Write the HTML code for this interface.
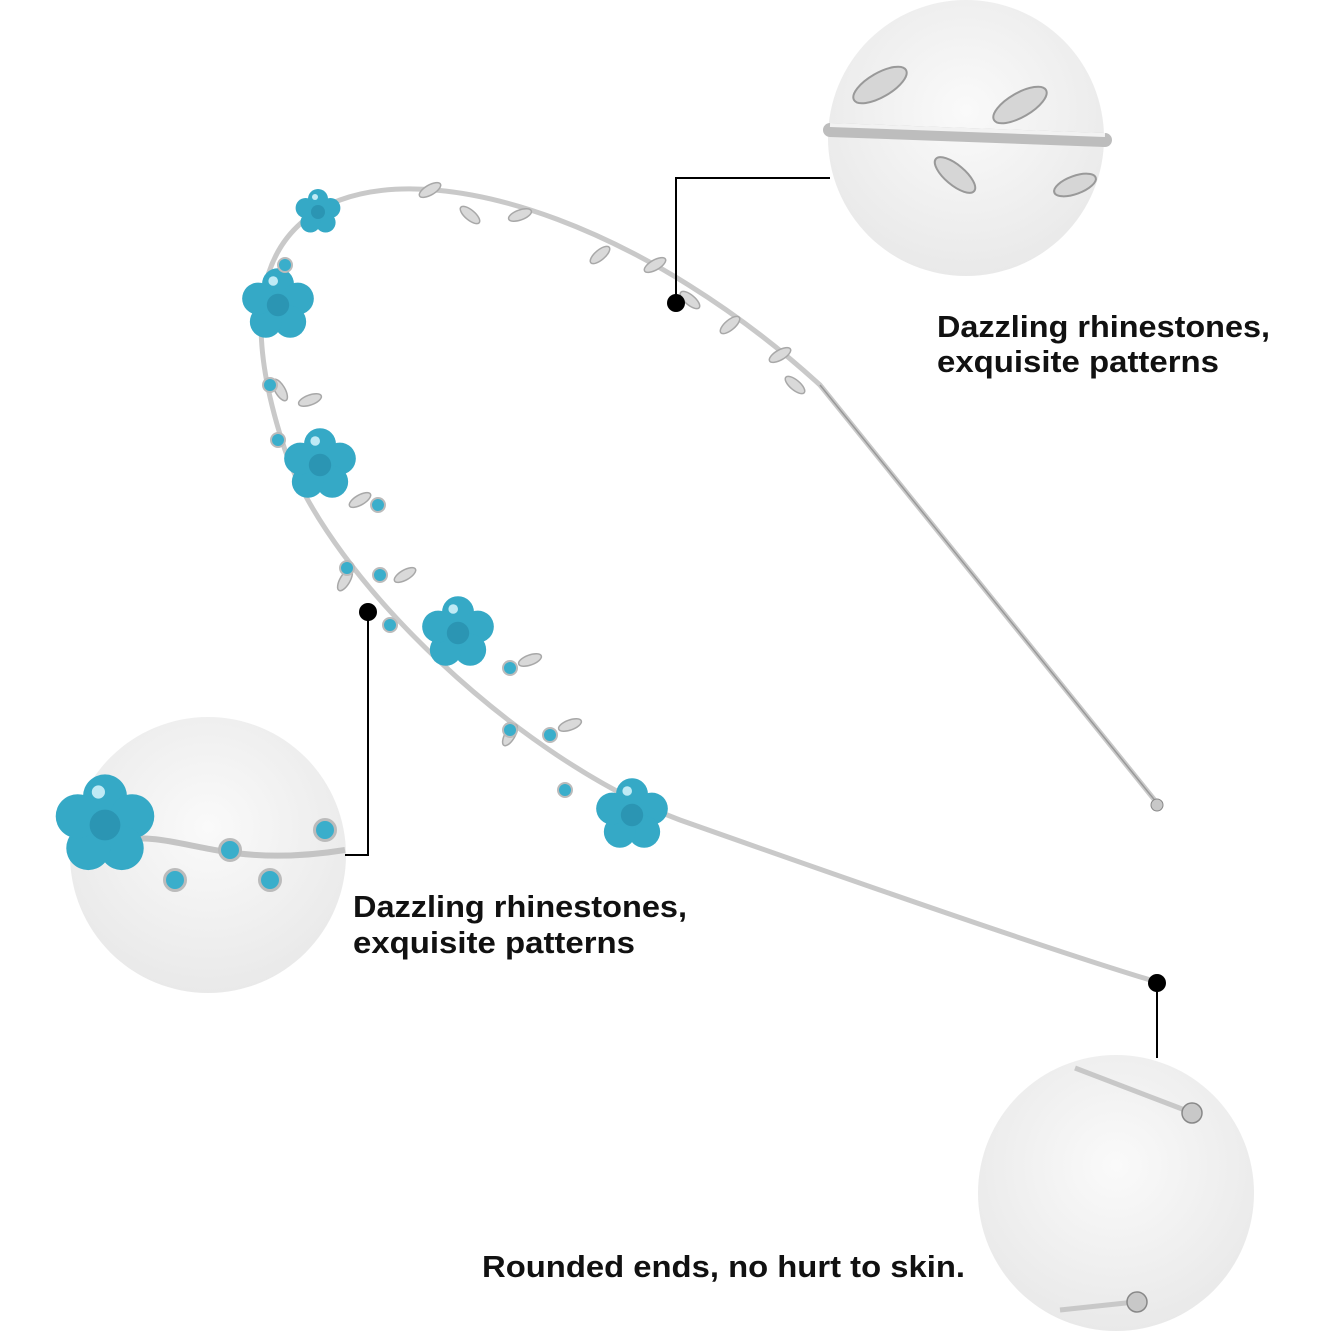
<!DOCTYPE html>
<html><head><meta charset="utf-8"><style>
html,body{margin:0;padding:0;background:#fff;}
svg{display:block;}
text{font-family:"Liberation Sans",sans-serif;font-weight:bold;fill:#111;}
</style></head><body>
<svg width="1336" height="1336" viewBox="0 0 1336 1336" xmlns="http://www.w3.org/2000/svg">
<defs>
<radialGradient id="cg" cx="50%" cy="40%" r="60%">
<stop offset="0" stop-color="#fafafa"/><stop offset="1" stop-color="#e9e9e9"/>
</radialGradient>
<g id="fl">
<circle cx="0" cy="-13" r="10" fill="#35a9c6"/>
<circle cx="12.4" cy="-4" r="10" fill="#35a9c6"/>
<circle cx="7.6" cy="10.5" r="10" fill="#35a9c6"/>
<circle cx="-7.6" cy="10.5" r="10" fill="#35a9c6"/>
<circle cx="-12.4" cy="-4" r="10" fill="#35a9c6"/>
<circle cx="0" cy="0" r="7" fill="#2b95b3"/>
<circle cx="-3" cy="-15" r="3" fill="#bfeaf5"/>
</g>
<g id="lf"><ellipse cx="0" cy="0" rx="12" ry="5" fill="#d9d9d9" stroke="#a8a8a8" stroke-width="1.5"/></g>
<g id="gm"><circle r="7" fill="#3aaecb" stroke="#bbb" stroke-width="2"/></g>
</defs>
<rect width="1336" height="1336" fill="#fff"/>

<circle cx="966" cy="138" r="138" fill="url(#cg)"/>
<circle cx="208" cy="855" r="138" fill="url(#cg)"/>
<circle cx="1116" cy="1193" r="138" fill="url(#cg)"/>

<path d="M830,130 L1105,140" stroke="#bdbdbd" stroke-width="14" stroke-linecap="round"/>
<path d="M830,125 L1105,135" stroke="#f2f2f2" stroke-width="4"/>
<g transform="translate(880,85) rotate(-30)"><ellipse rx="30" ry="12" fill="#d6d6d6" stroke="#999" stroke-width="2"/></g>
<g transform="translate(1020,105) rotate(-30)"><ellipse rx="30" ry="12" fill="#d6d6d6" stroke="#999" stroke-width="2"/></g>
<g transform="translate(955,175) rotate(40)"><ellipse rx="25" ry="10" fill="#d6d6d6" stroke="#999" stroke-width="2"/></g>
<g transform="translate(1075,185) rotate(-20)"><ellipse rx="22" ry="9" fill="#d6d6d6" stroke="#999" stroke-width="2"/></g>

<path d="M120,840 C180,830 220,870 345,850" stroke="#c4c4c4" stroke-width="6" fill="none"/>
<use href="#fl" transform="translate(105,825) scale(2.2)"/>
<use href="#gm" transform="translate(230,850) scale(1.5)"/>
<use href="#gm" transform="translate(270,880) scale(1.5)"/>
<use href="#gm" transform="translate(175,880) scale(1.5)"/>
<use href="#gm" transform="translate(325,830) scale(1.5)"/>

<path d="M1075,1068 L1190,1112" stroke="#c8c8c8" stroke-width="5"/>
<circle cx="1192" cy="1113" r="10" fill="#c8c8c8" stroke="#888" stroke-width="1.5"/>
<path d="M1060,1310 L1135,1302" stroke="#c8c8c8" stroke-width="5"/>
<circle cx="1137" cy="1302" r="10" fill="#c8c8c8" stroke="#888" stroke-width="1.5"/>

<path d="M1157,803 L820,385 C650,230 450,160 340,200 C250,235 245,330 285,450 C330,580 520,760 680,820 C850,880 1050,950 1157,982" stroke="#c9c9c9" stroke-width="5" fill="none"/>
<path d="M1157,803 L820,385" stroke="#999" stroke-width="1.5" fill="none"/>
<circle cx="1157" cy="805" r="6" fill="#c8c8c8" stroke="#888"/>

<use href="#lf" transform="translate(430,190) rotate(-30)"/>
<use href="#lf" transform="translate(470,215) rotate(40)"/>
<use href="#lf" transform="translate(520,215) rotate(-20)"/>
<use href="#lf" transform="translate(600,255) rotate(-40)"/>
<use href="#lf" transform="translate(655,265) rotate(-30)"/>
<use href="#lf" transform="translate(690,300) rotate(40)"/>
<use href="#lf" transform="translate(730,325) rotate(-40)"/>
<use href="#lf" transform="translate(780,355) rotate(-30)"/>
<use href="#lf" transform="translate(795,385) rotate(40)"/>
<use href="#lf" transform="translate(280,390) rotate(60)"/>
<use href="#lf" transform="translate(310,400) rotate(-20)"/>
<use href="#lf" transform="translate(360,500) rotate(-30)"/>
<use href="#lf" transform="translate(345,580) rotate(-60)"/>
<use href="#lf" transform="translate(405,575) rotate(-30)"/>
<use href="#lf" transform="translate(510,735) rotate(-60)"/>
<use href="#lf" transform="translate(570,725) rotate(-20)"/>
<use href="#lf" transform="translate(530,660) rotate(-20)"/>

<use href="#fl" transform="translate(318,212) scale(1.0)"/>
<use href="#fl" transform="translate(278,305) scale(1.6)"/>
<use href="#fl" transform="translate(320,465) scale(1.6)"/>
<use href="#fl" transform="translate(458,633) scale(1.6)"/>
<use href="#fl" transform="translate(632,815) scale(1.6)"/>
<use href="#gm" transform="translate(270,385)"/>
<use href="#gm" transform="translate(278,440)"/>
<use href="#gm" transform="translate(378,505)"/>
<use href="#gm" transform="translate(347,568)"/>
<use href="#gm" transform="translate(380,575)"/>
<use href="#gm" transform="translate(390,625)"/>
<use href="#gm" transform="translate(510,730)"/>
<use href="#gm" transform="translate(550,735)"/>
<use href="#gm" transform="translate(565,790)"/>
<use href="#gm" transform="translate(510,668)"/>
<use href="#gm" transform="translate(285,265)"/>

<path d="M676,303 L676,178 L830,178" stroke="#000" stroke-width="2" fill="none"/>
<circle cx="676" cy="303" r="9" fill="#000"/>
<path d="M368,612 L368,855 L345,855" stroke="#000" stroke-width="2" fill="none"/>
<circle cx="368" cy="612" r="9" fill="#000"/>
<path d="M1157,983 L1157,1058" stroke="#000" stroke-width="2" fill="none"/>
<circle cx="1157" cy="983" r="9" fill="#000"/>

<text x="937" y="337" font-size="31" textLength="333" lengthAdjust="spacingAndGlyphs">Dazzling rhinestones,</text>
<text x="937" y="372" font-size="31" textLength="282" lengthAdjust="spacingAndGlyphs">exquisite patterns</text>
<text x="353" y="917" font-size="31" textLength="334" lengthAdjust="spacingAndGlyphs">Dazzling rhinestones,</text>
<text x="353" y="953" font-size="31" textLength="282" lengthAdjust="spacingAndGlyphs">exquisite patterns</text>
<text x="482" y="1277" font-size="31" textLength="483" lengthAdjust="spacingAndGlyphs">Rounded ends, no hurt to skin.</text>
</svg>
</body></html>
